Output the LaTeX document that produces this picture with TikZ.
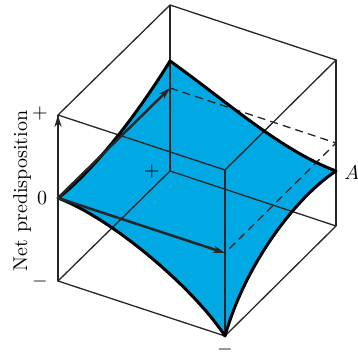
\documentclass[tikz,border=0pt]{standalone}
\usetikzlibrary{arrows.meta}
\definecolor{surfblue}{RGB}{0,169,228}
\tikzset{
  edge/.style={line width=0.65pt, black!85},
  hidden/.style={edge, dash pattern=on 4pt off 2.6pt},
  rim/.style={line width=1.5pt, black, line join=round},
  axis/.style={-{Stealth[length=6pt,width=3.6pt]}, line width=1.25pt, black!85},
  lbl/.style={inner sep=0.5pt},
}

\begin{document}
\begin{tikzpicture}[x=0.5pt, y=-0.5pt]
  \useasboundingbox (0,0) rectangle (358,356);

  % Cube corners (t = top face, b = bottom face, m = middle plane)
  \coordinate (Bt) at (170,5);   \coordinate (Bm) at (170,88);  \coordinate (Bb) at (170,171);
  \coordinate (Lt) at (58,115);  \coordinate (Lm) at (58,198);  \coordinate (Lb) at (58,281);
  \coordinate (Rt) at (336,60);  \coordinate (Rm) at (336,143); \coordinate (Rb) at (336,226);
  \coordinate (Ft) at (225,170); \coordinate (Fm) at (225,253); \coordinate (Fb) at (225,336);

  % Corners of the surface
  \coordinate (St) at (170,61);
  \coordinate (Sr) at (336,171);

  % Surface
  \fill[surfblue] (Lm) .. controls (95,170) and (140,110) .. (St)
    .. controls (225,100) and (280,150) .. (Sr)
    .. controls (295,198) and (245,265) .. (Fb)
    .. controls (195,290) and (115,220) .. (Lm) -- cycle;

  % Cube edges
  \draw[edge] (Lt) -- (Bt) -- (Rt) -- (Ft) -- cycle;
  \draw[edge] (Lb) -- (Bb) -- (Rb) -- (Fb) -- cycle;
  \draw[edge] (Bt) -- (Bb);
  \draw[edge] (Rt) -- (Rb);
  \draw[edge] (Ft) -- (Fb);
  \draw[edge] (Lt) -- (Lb);

  % Middle plane
  \draw[hidden] (Bm) -- (Rm) -- (Fm);

  % Surface rim
  \draw[rim] (Lm) .. controls (95,170) and (140,110) .. (St)
    .. controls (225,100) and (280,150) .. (Sr)
    .. controls (295,198) and (245,265) .. (Fb)
    .. controls (195,290) and (115,220) .. (Lm) -- cycle;

  % Axes
  \draw[axis] (Lb) -- (Lt);
  \draw[axis] (Lm) -- (Bm);
  \draw[axis] (Lm) -- (Fm);

  % Labels
  \node[lbl, rotate=90] (ylab) at (22,191) {Net predisposition};
  \node[lbl] (yplus) at (40,114) {$+$};
  \node[lbl] (yzero) at (42,198) {$0$};
  \node[lbl] (yminus) at (40,282) {$-$};
  \node[lbl] (zplus) at (152,172) {$+$};
  \node[lbl, anchor=west] (alab) at (343,173) {$A$};
  \node[lbl] (bminus) at (225,350) {$-$};
\end{tikzpicture}
\end{document}
